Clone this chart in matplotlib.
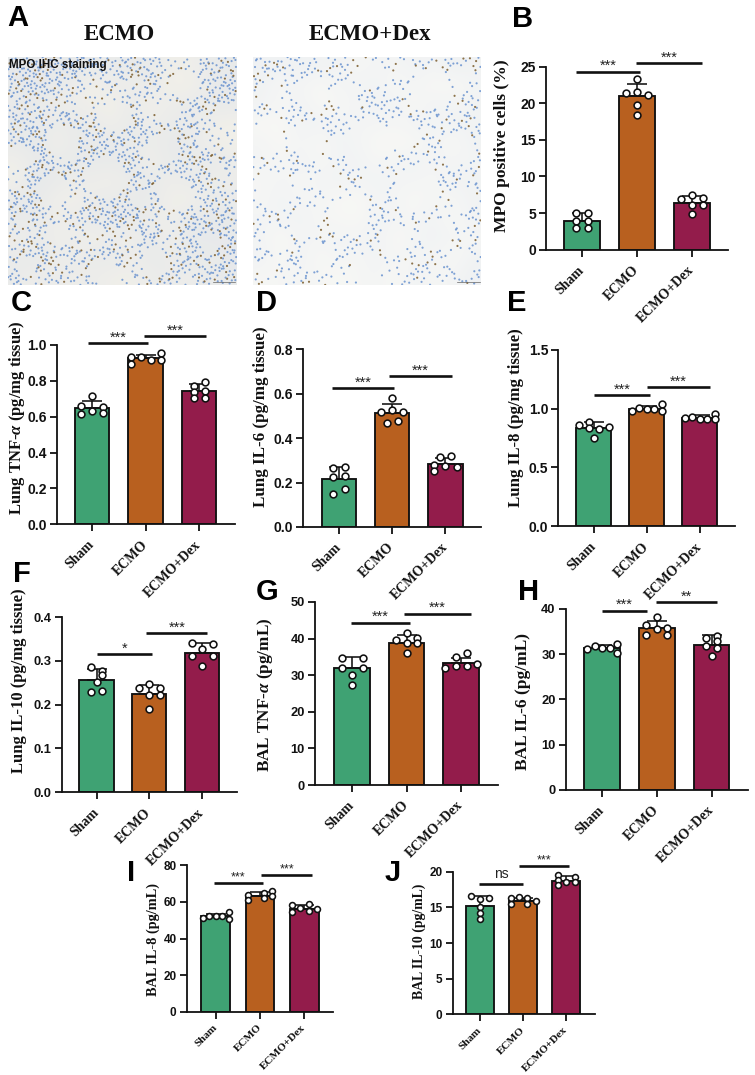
import matplotlib
matplotlib.use("Agg")
import matplotlib.pyplot as plt
import numpy as np
from matplotlib.colors import LinearSegmentedColormap

W, H = 755, 1075
plt.rcParams['mathtext.fontset'] = 'custom'
plt.rcParams['mathtext.it'] = 'Liberation Serif:italic:bold'
plt.rcParams['mathtext.rm'] = 'Liberation Serif:bold'
plt.rcParams['axes.unicode_minus'] = False

groups = ["Sham", "ECMO", "ECMO+Dex"]
colors = ["#3fa273", "#b8601f", "#931c4b"]

# ---- data (means, upper SD end, points, y ticks) ----
b_mean = [3.95, 21.0, 6.35]
b_err = [5.0, 22.6, 7.3]
b_pts = [[4.96, 4.96, 3.96, 3.96, 2.96, 2.96], [23.3, 21.4, 21.6, 21.2, 19.8, 18.4], [7.47, 6.88, 7.06, 6.1, 6.1, 4.87]]
b_ticks = [0, 5, 10, 15, 20, 25]

c_mean = [0.65, 0.925, 0.745]
c_err = [0.69, 0.945, 0.785]
c_pts = [[0.716, 0.662, 0.654, 0.632, 0.617, 0.621], [0.935, 0.896, 0.933, 0.914, 0.954, 0.914], [0.771, 0.796, 0.736, 0.743, 0.703, 0.706]]
c_ticks = [0.0, 0.2, 0.4, 0.6, 0.8, 1.0]

d_mean = [0.218, 0.512, 0.283]
d_err = [0.27, 0.554, 0.31]
d_pts = [[0.267, 0.27, 0.225, 0.228, 0.17, 0.15], [0.58, 0.518, 0.528, 0.518, 0.477, 0.467], [0.314, 0.318, 0.279, 0.275, 0.269, 0.252]]
d_ticks = [0.0, 0.2, 0.4, 0.6, 0.8]

e_mean = [0.835, 1.0, 0.92]
e_err = [0.889, 1.025, 0.943]
e_pts = [[0.889, 0.864, 0.838, 0.824, 0.847, 0.748], [0.98, 1.008, 0.994, 0.994, 1.037, 0.977], [0.918, 0.926, 0.915, 0.915, 0.957, 0.909]]
e_ticks = [0.0, 0.5, 1.0, 1.5]

f_mean = [0.256, 0.224, 0.317]
f_err = [0.281, 0.245, 0.34]
f_pts = [[0.287, 0.277, 0.268, 0.252, 0.23, 0.232], [0.248, 0.237, 0.237, 0.222, 0.222, 0.189], [0.341, 0.339, 0.326, 0.31, 0.31, 0.288]]
f_ticks = [0.0, 0.1, 0.2, 0.3, 0.4]

g_mean = [31.9, 38.9, 33.3]
g_err = [34.9, 40.9, 34.8]
g_pts = [[34.6, 34.6, 32.1, 32.1, 30.1, 27.4], [41.6, 40.3, 39.6, 38.7, 38.7, 36.2], [36.0, 34.9, 31.9, 32.6, 32.6, 33.0]]
g_ticks = [0, 10, 20, 30, 40, 50]

h_mean = [31.3, 35.7, 32.0]
h_err = [32.0, 37.3, 34.2]
h_pts = [[31.0, 31.8, 31.3, 31.3, 32.2, 30.3], [38.1, 36.5, 35.7, 35.5, 34.3, 34.3], [33.5, 34.0, 32.9, 31.8, 31.3, 29.5]]
h_ticks = [0, 10, 20, 30, 40]

i_mean = [52.0, 63.2, 56.1]
i_err = [53.5, 65.3, 58.2]
i_pts = [[51.2, 52.4, 52.1, 52.1, 54.3, 50.4], [63.9, 61.2, 64.8, 62.1, 65.9, 63.2], [58.4, 54.4, 56.4, 58.8, 55.0, 56.3]]
i_ticks = [0, 20, 40, 60, 80]

j_mean = [15.2, 15.9, 18.75]
j_err = [16.6, 16.35, 19.4]
j_pts = [[16.6, 16.2, 16.3, 15.0, 14.2, 13.4], [16.3, 16.4, 16.3, 15.9, 15.4, 15.4], [19.5, 18.8, 19.3, 18.1, 18.5, 18.5]]
j_ticks = [0, 5, 10, 15, 20]

# ---- horizontal spread of the points, in category units ----
b_dx = [[-.105, .105, -.105, .105, -.105, .105], [0, -.205, 0, .205, 0, 0], [0, -.205, .2, 0, .2, 0]]
c_dx = [[0, -.205, .205, 0, -.205, .205], [-.275, -.275, -.09, .1, .29, .29], [-.1, .105, -.1, .105, -.1, .105]]
d_dx = [[-.105, .105, -.105, .105, .105, -.105], [0, -.205, 0, .21, .105, -.1], [-.1, .105, -.205, 0, .21, -.205]]
e_dx = [[-.095, -.28, -.095, .095, .28, 0], [-.28, -.145, 0, .145, .285, .285], [-.28, -.14, 0, .145, .29, .29]]
f_dx = [[-.11, .11, .11, 0, -.11, .11], [0, -.2, .2, 0, .2, 0], [-.19, .2, 0, -.19, .2, 0]]
g_dx = [[-.18, .21, -.18, .21, 0, 0], [0, .2, -.2, 0, .2, 0], [.1, -.1, -.3, -.1, .1, .29]]
h_dx = [[-.28, -.13, 0, .14, .28, .28], [0, -.19, .19, 0, -.19, .19], [-.1, .1, .1, -.1, .1, 0]]
i_dx = [[-.28, -.14, 0, .14, .29, .29], [-.28, -.28, .08, .08, .28, .28], [-.28, -.28, -.09, .1, .1, .29]]
j_dx = [[-.21, 0, .21, 0, 0, 0], [-.28, -.09, .1, .29, -.28, .1], [-.2, -.2, .2, -.2, 0, .2]]

# significance bars: (from, to, height, label)
b_sig = [(-.11, 1.06, 24.3, "***"), (.99, 2.19, 25.46, "***")]
c_sig = [(-.07, 1.05, 1.009, "***"), (.97, 2.13, 1.05, "***")]
d_sig = [(-.14, 1.04, .626, "***"), (.94, 2.12, .678, "***")]
e_sig = [(0, 1.07, 1.113, "***"), (1, 2.19, 1.184, "***")]
f_sig = [(0, 1.06, .3156, "*"), (.945, 2.1, .3635, "***")]
g_sig = [(-.02, 1.07, 44.35, "***"), (.95, 2.17, 46.8, "***")]
h_sig = [(0, .83, 39.6, "***"), (.99, 2.09, 41.4, "**")]
i_sig = [(-.04, 1.07, 70.2, "***"), (1.03, 2.17, 74.6, "***")]
j_sig = [(-.03, .99, 18.27, "ns"), (.91, 2.06, 20.84, "***")]

fig = plt.figure(figsize=(W / 100, H / 100), dpi=100)
SANS = "Liberation Sans"
SERIF = "Liberation Serif"
INK = "#111111"


def rect(l, t, r, b):
    return [l / W, 1 - b / H, (r - l) / W, (b - t) / H]


def ftext(x, y, s, **kw):
    return fig.text(x / W, 1 - y / H, s, **kw)


def panel(g, mean, err, pts, dx, ticks, sig, fmt, ylabel):
    ax = fig.add_axes(rect(g["left"], g["top"], g["right"], g["y0"]))
    c0, step = g["c0"], g["step"]
    ax.set_xlim((g["left"] - c0) / step, (g["right"] - c0) / step)
    ax.set_ylim(0, ticks[-1])
    ax.patch.set_alpha(0)
    for i in range(3):
        ax.bar(i, mean[i], width=0.65, color=colors[i], edgecolor=INK, linewidth=1.35, zorder=2)
        ax.errorbar(i, mean[i], yerr=[[0], [err[i] - mean[i]]], color=INK, capsize=7.2,
                    elinewidth=1.15, capthick=1.15, zorder=3)
        ax.scatter(np.array(dx[i]) + i, pts[i], s=g.get("s", 24), facecolor="white", edgecolor=INK,
                   linewidth=1.15, zorder=4, clip_on=False)
    for sp in ["top", "right"]:
        ax.spines[sp].set_visible(False)
    for sp in ["left", "bottom"]:
        ax.spines[sp].set_linewidth(1.3)
        ax.spines[sp].set_color(INK)
    ax.set_xticks(range(3))
    ax.set_yticks(ticks)
    ax.set_yticklabels([fmt.format(t) for t in ticks], fontfamily=SANS, fontweight="bold",
                       fontsize=g.get("yfs", 10), color=INK)
    ax.set_xticklabels(groups, fontfamily=SERIF, fontweight="bold", fontsize=g.get("xfs", 10),
                       rotation=45, ha="right", va="center", rotation_mode="anchor", color=INK)
    ax.tick_params(axis="y", length=5.3, width=1.3, pad=2, color=INK)
    ax.tick_params(axis="x", length=5.3, width=1.3, pad=g.get("xpad", 8), color=INK)
    for a, b, y, lab in sig:
        ax.plot([a, b], [y, y], color=INK, lw=1.9, clip_on=False, solid_capstyle="butt", zorder=5)
        if lab == "ns":
            ax.annotate(lab, ((a + b) / 2, y), xytext=(0, 2.4), textcoords="offset points", ha="center",
                        va="bottom", fontfamily=SANS, fontsize=10, color="#222222", annotation_clip=False)
        else:
            ax.annotate(lab, ((a + b) / 2, y), xytext=(0, 4), textcoords="offset points", ha="center",
                        va="center", fontfamily=SANS, fontsize=g.get("sfs", 10.5), color="#222222",
                        annotation_clip=False)
    # y label fitted to the length measured in the picture
    t = ftext(g["lx"], g["ly"], ylabel, rotation=90, ha="center", va="center", fontfamily=SERIF,
              fontweight="bold", fontsize=11, color=INK)
    fig.canvas.draw()
    ext = t.get_window_extent()
    t.set_fontsize(11 * g["llen"] / ext.height)
    return ax


def halton(i, base):
    f, r = 1.0, 0.0
    while i > 0:
        f /= base
        r += f * (i % base)
        i //= base
    return r


# Stand-in for the photographs: hand-read maps of tissue density and air spaces
tissue_a = [
    [8, 8, 7, 7, 6, 6, 7, 6, 3, 3, 6, 7],
    [7, 8, 7, 5, 2, 5, 4, 6, 2, 2, 6, 8],
    [6, 6, 5, 4, 3, 2, 6, 2, 5, 6, 6, 7],
    [7, 7, 5, 7, 6, 3, 7, 4, 6, 6, 4, 2],
    [7, 8, 3, 6, 7, 7, 6, 5, 7, 7, 3, 2],
    [3, 7, 6, 7, 7, 7, 7, 3, 7, 6, 7, 6],
    [2, 8, 7, 5, 4, 3, 6, 7, 4, 6, 5, 4],
    [7, 8, 3, 2, 5, 6, 6, 7, 3, 2, 6, 6],
    [7, 6, 4, 6, 7, 8, 7, 5, 3, 7, 7, 7],
    [4, 6, 4, 3, 3, 4, 3, 7, 3, 7, 8, 7],
    [6, 7, 5, 5, 6, 7, 4, 7, 5, 7, 6, 8],
    [6, 4, 5, 4, 5, 3, 3, 5, 6, 4, 6, 7],
]
tissue_b = [
    [6, 5, 6, 5, 5, 3, 4, 4, 5, 4, 6, 5],
    [5, 3, 4, 2, 4, 4, 5, 2, 4, 2, 2, 4],
    [5, 3, 5, 2, 3, 4, 5, 5, 2, 5, 4, 5],
    [2, 2, 5, 5, 4, 4, 4, 3, 5, 4, 5, 5],
    [4, 2, 4, 2, 5, 4, 2, 2, 2, 5, 2, 5],
    [4, 3, 5, 3, 4, 5, 3, 4, 5, 4, 4, 4],
    [3, 4, 3, 4, 5, 4, 5, 4, 4, 3, 5, 5],
    [3, 5, 3, 4, 2, 2, 4, 4, 2, 4, 3, 5],
    [4, 4, 5, 3, 3, 2, 5, 4, 3, 5, 2, 5],
    [4, 2, 4, 4, 4, 4, 5, 2, 4, 5, 4, 3],
    [5, 2, 5, 2, 4, 3, 5, 3, 4, 4, 2, 5],
    [3, 3, 4, 3, 2, 3, 4, 2, 5, 3, 4, 6],
]
# air spaces: centre x, centre y, radius, as fractions of the photograph (y from the top)
air_a = [(.78, .12, .06), (.70, .24, .05), (.05, .44, .06), (.24, .37, .07), (.47, .26, .07), (.68, .40, .07),
         (.72, .59, .07), (.43, .53, .09), (.20, .58, .07), (.43, .95, .06), (.22, .78, .05), (.38, .76, .03),
         (.64, .90, .06), (.08, .92, .04), (.95, .25, .05), (.33, .22, .03), (.92, .50, .03), (.88, .82, .04),
         (.58, .62, .04), (.06, .72, .03)]
air_b = [(.24, .36, .08), (.25, .16, .07), (.41, .16, .055), (.52, .08, .06), (.78, .14, .09), (.92, .08, .04),
         (.07, .36, .07), (.50, .38, .10), (.65, .33, .07), (.90, .40, .07), (.09, .58, .08), (.33, .55, .05),
         (.54, .55, .05), (.72, .58, .10), (.92, .63, .05), (.22, .72, .06), (.43, .70, .08), (.80, .78, .07),
         (.62, .80, .07), (.10, .80, .06), (.28, .88, .06), (.50, .93, .07), (.92, .90, .06), (.06, .93, .04),
         (.36, .40, .04), (.22, .53, .03), (.66, .06, .04), (.07, .16, .05)]


def micrograph(l, r, tissue, air, bg, nmax, every):
    ax = fig.add_axes(rect(l, 57, r, 285))
    ax.set_axis_off()
    cm = LinearSegmentedColormap.from_list("t", [bg, "#d5deee"])
    ax.imshow(tissue, cmap=cm, vmin=0, vmax=18, extent=(0, 1, 0, 1), aspect="auto", interpolation="bicubic",
              origin="upper")
    arr = np.array(tissue, float) / 9
    xs, ys, cs = [], [], []
    for i in range(1, nmax):
        x, y, v = halton(i, 2), halton(i, 3), halton(i, 5)
        row, col = int(y * 12), int(x * 12)
        if v < arr[row, col] and all((x - ax0) ** 2 + (y - ay0) ** 2 > ar ** 2 for ax0, ay0, ar in air):
            xs.append(x)
            ys.append(1 - y)
            cs.append("#7b5d2e" if len(xs) % every == 0 else "#6a93cf")
    ax.scatter(xs, ys, s=2.4, c=cs, linewidths=0, alpha=0.85)
    ax.plot([.895, .995], [.012, .012], color="#666666", lw=0.5)
    ax.set_xlim(0, 1)
    ax.set_ylim(0, 1)
    return ax


micrograph(8, 236.5, tissue_a, air_a, "#f5f2e9", 3600, 5)
micrograph(253, 481, tissue_b, air_b, "#fcfbf6", 3000, 6)
ftext(9, 65, "MPO IHC staining", fontfamily=SANS, fontweight="bold", fontsize=8.4, va="center", color=INK)
ftext(119, 34, "ECMO", fontfamily=SERIF, fontweight="bold", fontsize=16.5, ha="center", va="center", color=INK)
ftext(370, 35, "ECMO+Dex", fontfamily=SERIF, fontweight="bold", fontsize=16.5, ha="center", va="center", color=INK)

panel(dict(left=546, top=66.7, right=728, y0=249.7, c0=582, step=54.9, lx=502, ly=146, llen=172), b_mean, b_err, b_pts, b_dx, b_ticks, b_sig, "{:d}", "MPO positive cells (%)")
panel(dict(left=56.7, top=345, right=235, y0=524.3, c0=92, step=53.5, lx=17, ly=417.5, llen=195), c_mean, c_err, c_pts, c_dx, c_ticks, c_sig, "{:.1f}", r"Lung TNF-$\alpha$ (pg/mg tissue)")
panel(dict(left=303.3, top=349.3, right=481, y0=527, c0=339, step=53.2, lx=261, ly=417, llen=180), d_mean, d_err, d_pts, d_dx, d_ticks, d_sig, "{:.1f}", "Lung IL-6 (pg/mg tissue)")
panel(dict(left=558.3, top=349.7, right=735, y0=526.3, c0=593.7, step=53, lx=516, ly=417.5, llen=178), e_mean, e_err, e_pts, e_dx, e_ticks, e_sig, "{:.1f}", "Lung IL-8 (pg/mg tissue)")
panel(dict(left=61.8, top=617, right=236.7, y0=792.3, c0=96.6, step=52.7, lx=19, ly=681, llen=185, yfs=9.3), f_mean, f_err, f_pts, f_dx, f_ticks, f_sig, "{:.1f}", "Lung IL-10 (pg/mg tissue)")
panel(dict(left=315, top=602, right=497.6, y0=785, c0=351.7, step=54.8, lx=265, ly=694.5, llen=154, yfs=9.3), g_mean, g_err, g_pts, g_dx, g_ticks, g_sig, "{:d}", r"BAL TNF-$\alpha$ (pg/mL)")
panel(dict(left=565.7, top=608.7, right=747.8, y0=790, c0=602, step=54.8, lx=523, ly=701, llen=137, yfs=9.3), h_mean, h_err, h_pts, h_dx, h_ticks, h_sig, "{:d}", "BAL IL-6 (pg/mL)")
panel(dict(left=186.7, top=865, right=333, y0=1012, c0=215.7, step=44.3, lx=153, ly=939, llen=112, yfs=8.5, xfs=8, s=18, sfs=9, xpad=5), i_mean, i_err, i_pts, i_dx, i_ticks, i_sig, "{:d}", "BAL IL-8 (pg/mL)")
panel(dict(left=452.7, top=871.7, right=594.7, y0=1014.3, c0=480.3, step=42.9, lx=419, ly=941, llen=115, yfs=8.5, xfs=8, s=18, sfs=9, xpad=5), j_mean, j_err, j_pts, j_dx, j_ticks, j_sig, "{:d}", "BAL IL-10 (pg/mL)")

letters = [("A", 7, 26), ("B", 512, 27), ("C", 11, 311), ("D", 256, 311), ("E", 507, 311),
           ("F", 13, 582), ("G", 256, 600), ("H", 518, 600), ("I", 127, 881), ("J", 385, 881)]
for s, x, y in letters:
    ftext(x, y, s, fontfamily=SANS, fontweight="bold", fontsize=21, ha="left", va="baseline", color="black")

fig.savefig("out.png", dpi=100, facecolor="white")
